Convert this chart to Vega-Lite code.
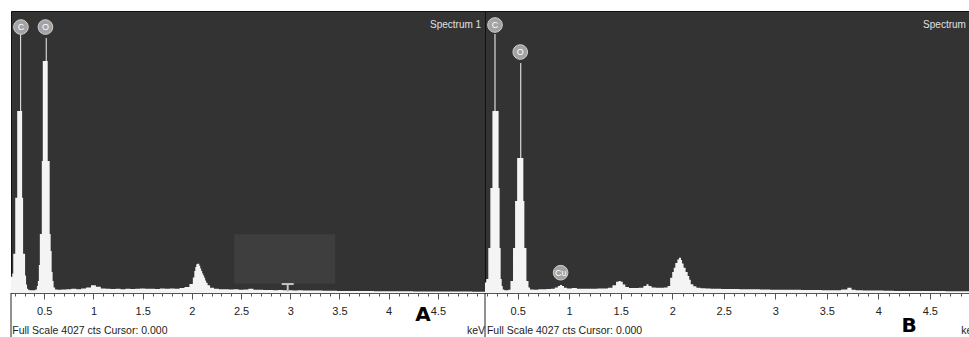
{
  "$schema": "https://vega.github.io/schema/vega-lite/v6.json",
  "padding": {"left": 10, "top": 10, "right": 0, "bottom": 0},
  "background": "white",
  "spacing": 0,
  "bounds": "flush",
  "config": {"view": {"fill": "#333333", "stroke": "#111111", "strokeWidth": 1}},
  "datasets": {
    "specA": [
      {"kev":0.16,"cts":250},{"kev":0.17,"cts":230},{"kev":0.18,"cts":280},{"kev":0.19,"cts":560},{"kev":0.20,"cts":560},
      {"kev":0.21,"cts":1360},{"kev":0.22,"cts":1360},{"kev":0.23,"cts":2600},{"kev":0.24,"cts":2600},{"kev":0.25,"cts":2600},
      {"kev":0.26,"cts":3700},{"kev":0.27,"cts":2600},{"kev":0.28,"cts":1360},{"kev":0.29,"cts":560},{"kev":0.30,"cts":560},
      {"kev":0.31,"cts":250},{"kev":0.32,"cts":120},{"kev":0.33,"cts":60},{"kev":0.34,"cts":45},{"kev":0.36,"cts":40},
      {"kev":0.38,"cts":38},{"kev":0.40,"cts":40},{"kev":0.42,"cts":50},{"kev":0.43,"cts":100},{"kev":0.44,"cts":171},
      {"kev":0.45,"cts":400},{"kev":0.46,"cts":843},{"kev":0.47,"cts":843},{"kev":0.48,"cts":1885},{"kev":0.49,"cts":3313},
      {"kev":0.50,"cts":3313},{"kev":0.51,"cts":3313},{"kev":0.52,"cts":3641},{"kev":0.53,"cts":3313},{"kev":0.54,"cts":1885},
      {"kev":0.55,"cts":1885},{"kev":0.56,"cts":843},{"kev":0.57,"cts":600},{"kev":0.58,"cts":300},{"kev":0.59,"cts":171},
      {"kev":0.60,"cts":80},{"kev":0.62,"cts":50},{"kev":0.65,"cts":45},{"kev":0.70,"cts":50},{"kev":0.75,"cts":55},
      {"kev":0.80,"cts":60},{"kev":0.85,"cts":55},{"kev":0.90,"cts":65},{"kev":0.95,"cts":80},{"kev":1.00,"cts":110},
      {"kev":1.05,"cts":90},{"kev":1.10,"cts":65},{"kev":1.15,"cts":60},{"kev":1.20,"cts":58},{"kev":1.25,"cts":62},
      {"kev":1.30,"cts":55},{"kev":1.35,"cts":60},{"kev":1.40,"cts":58},{"kev":1.45,"cts":62},{"kev":1.50,"cts":65},
      {"kev":1.55,"cts":60},{"kev":1.60,"cts":62},{"kev":1.65,"cts":58},{"kev":1.70,"cts":64},{"kev":1.75,"cts":60},
      {"kev":1.80,"cts":66},{"kev":1.85,"cts":62},{"kev":1.90,"cts":70},{"kev":1.95,"cts":85},{"kev":2.00,"cts":128},
      {"kev":2.02,"cts":220},{"kev":2.03,"cts":314},{"kev":2.04,"cts":370},{"kev":2.05,"cts":410},{"kev":2.06,"cts":418},
      {"kev":2.07,"cts":418},{"kev":2.08,"cts":390},{"kev":2.09,"cts":350},{"kev":2.10,"cts":314},{"kev":2.11,"cts":280},
      {"kev":2.12,"cts":250},{"kev":2.13,"cts":219},{"kev":2.14,"cts":180},{"kev":2.15,"cts":147},{"kev":2.17,"cts":110},
      {"kev":2.20,"cts":76},{"kev":2.25,"cts":60},{"kev":2.30,"cts":55},{"kev":2.35,"cts":52},{"kev":2.40,"cts":50},
      {"kev":2.45,"cts":52},{"kev":2.50,"cts":48},{"kev":2.55,"cts":50},{"kev":2.60,"cts":62},{"kev":2.65,"cts":48},
      {"kev":2.70,"cts":45},{"kev":2.75,"cts":44},{"kev":2.80,"cts":42},{"kev":2.85,"cts":40},{"kev":2.90,"cts":42},
      {"kev":2.95,"cts":40},{"kev":3.00,"cts":38},{"kev":3.05,"cts":36},{"kev":3.10,"cts":38},{"kev":3.15,"cts":36},
      {"kev":3.20,"cts":35},{"kev":3.25,"cts":34},{"kev":3.30,"cts":35},{"kev":3.35,"cts":33},{"kev":3.40,"cts":32},
      {"kev":3.45,"cts":33},{"kev":3.50,"cts":30},{"kev":3.60,"cts":30},{"kev":3.70,"cts":28},{"kev":3.80,"cts":28},
      {"kev":3.90,"cts":26},{"kev":4.00,"cts":25},{"kev":4.10,"cts":25},{"kev":4.20,"cts":24},{"kev":4.30,"cts":23},
      {"kev":4.40,"cts":22},{"kev":4.50,"cts":22},{"kev":4.60,"cts":21},{"kev":4.70,"cts":20},{"kev":4.80,"cts":20},
      {"kev":4.90,"cts":19},{"kev":4.98,"cts":18}
    ],
    "specB": [
      {"kev":0.18,"cts":150},{"kev":0.19,"cts":150},{"kev":0.20,"cts":200},{"kev":0.21,"cts":200},{"kev":0.22,"cts":643},
      {"kev":0.23,"cts":643},{"kev":0.24,"cts":1499},{"kev":0.25,"cts":1499},{"kev":0.26,"cts":2599},{"kev":0.27,"cts":2599},
      {"kev":0.28,"cts":3700},{"kev":0.29,"cts":2599},{"kev":0.30,"cts":2599},{"kev":0.31,"cts":2599},{"kev":0.32,"cts":1499},
      {"kev":0.33,"cts":643},{"kev":0.34,"cts":200},{"kev":0.35,"cts":100},{"kev":0.36,"cts":50},{"kev":0.38,"cts":40},
      {"kev":0.40,"cts":40},{"kev":0.42,"cts":45},{"kev":0.44,"cts":171},{"kev":0.45,"cts":171},{"kev":0.46,"cts":643},
      {"kev":0.47,"cts":643},{"kev":0.48,"cts":1314},{"kev":0.49,"cts":1314},{"kev":0.50,"cts":1928},{"kev":0.51,"cts":1928},
      {"kev":0.52,"cts":1928},{"kev":0.53,"cts":3284},{"kev":0.54,"cts":1928},{"kev":0.55,"cts":1928},{"kev":0.56,"cts":1314},
      {"kev":0.57,"cts":643},{"kev":0.58,"cts":643},{"kev":0.59,"cts":171},{"kev":0.60,"cts":171},{"kev":0.61,"cts":80},
      {"kev":0.63,"cts":50},{"kev":0.68,"cts":48},{"kev":0.72,"cts":52},{"kev":0.76,"cts":55},{"kev":0.80,"cts":58},
      {"kev":0.84,"cts":62},{"kev":0.88,"cts":80},{"kev":0.90,"cts":100},{"kev":0.92,"cts":114},{"kev":0.94,"cts":100},
      {"kev":0.96,"cts":75},{"kev":1.00,"cts":65},{"kev":1.05,"cts":70},{"kev":1.10,"cts":62},{"kev":1.15,"cts":60},
      {"kev":1.20,"cts":62},{"kev":1.25,"cts":60},{"kev":1.30,"cts":64},{"kev":1.35,"cts":66},{"kev":1.40,"cts":75},
      {"kev":1.44,"cts":110},{"kev":1.47,"cts":160},{"kev":1.49,"cts":171},{"kev":1.51,"cts":160},{"kev":1.53,"cts":120},
      {"kev":1.56,"cts":85},{"kev":1.60,"cts":72},{"kev":1.65,"cts":70},{"kev":1.70,"cts":74},{"kev":1.74,"cts":100},
      {"kev":1.76,"cts":124},{"kev":1.78,"cts":100},{"kev":1.82,"cts":78},{"kev":1.86,"cts":74},{"kev":1.90,"cts":76},
      {"kev":1.94,"cts":80},{"kev":1.97,"cts":100},{"kev":1.99,"cts":219},{"kev":2.01,"cts":300},{"kev":2.02,"cts":361},
      {"kev":2.04,"cts":430},{"kev":2.06,"cts":480},{"kev":2.07,"cts":504},{"kev":2.08,"cts":504},{"kev":2.09,"cts":470},
      {"kev":2.10,"cts":420},{"kev":2.12,"cts":361},{"kev":2.14,"cts":300},{"kev":2.16,"cts":243},{"kev":2.17,"cts":190},
      {"kev":2.19,"cts":124},{"kev":2.22,"cts":95},{"kev":2.25,"cts":76},{"kev":2.30,"cts":68},{"kev":2.35,"cts":64},
      {"kev":2.40,"cts":62},{"kev":2.45,"cts":60},{"kev":2.50,"cts":58},{"kev":2.60,"cts":56},{"kev":2.70,"cts":54},
      {"kev":2.80,"cts":52},{"kev":2.90,"cts":50},{"kev":3.00,"cts":48},{"kev":3.10,"cts":46},{"kev":3.20,"cts":45},
      {"kev":3.30,"cts":44},{"kev":3.40,"cts":42},{"kev":3.50,"cts":40},{"kev":3.60,"cts":40},{"kev":3.68,"cts":50},
      {"kev":3.72,"cts":76},{"kev":3.76,"cts":45},{"kev":3.80,"cts":38},{"kev":3.90,"cts":35},{"kev":4.00,"cts":34},
      {"kev":4.10,"cts":32},{"kev":4.20,"cts":30},{"kev":4.30,"cts":30},{"kev":4.40,"cts":28},{"kev":4.50,"cts":28},
      {"kev":4.60,"cts":27},{"kev":4.70,"cts":26},{"kev":4.80,"cts":25},{"kev":4.90,"cts":25}
    ],
    "markA": [{"kev":0.263,"cts":3798,"el":"C"},{"kev":0.512,"cts":3798,"el":"O"}],
    "markB": [{"kev":0.280,"cts":3827,"el":"C"},{"kev":0.525,"cts":3441,"el":"O"},{"kev":0.917,"cts":290,"el":"Cu"}],
    "boxA": [{"kev":2.431,"kev2":3.457,"cts":133,"cts2":838}],
    "barA": [{"kev":2.913,"kev2":3.035,"cts":128}],
    "stemA": [{"kev":2.974,"cts":18,"cts2":128}],
    "edgeA": [{"kev":0.162,"cts":-700,"cts2":0}],
    "edgeB": [{"kev":0.183,"cts":-700,"cts2":0}],
    "notesA": [{"kev":0.175,"cts":-543,"txt":"Full Scale 4027 cts Cursor: 0.000"},{"kev":4.796,"cts":-543,"txt":"keV"}],
    "notesB": [{"kev":0.202,"cts":-543,"txt":"Full Scale 4027 cts Cursor: 0.000"},{"kev":4.804,"cts":-543,"txt":"keV"}],
    "titleA": [{"kev":4.42,"cts":3827,"txt":"Spectrum 1"}],
    "titleB": [{"kev":4.435,"cts":3827,"txt":"Spectrum 1"}],
    "letterA": [{"kev":4.348,"cts":-321,"txt":"A"}],
    "letterB": [{"kev":4.299,"cts":-478,"txt":"B"}]
  },
  "hconcat": [
    {
      "width": 474,
      "height": 282,
      "encoding": {
        "x": {"field":"kev","type":"quantitative","scale":{"domain":[0.162,4.979],"nice":false,"zero":false},
          "axis":{"values":[0.2,0.3,0.4,0.5,0.6,0.7,0.8,0.9,1.0,1.1,1.2,1.3,1.4,1.5,1.6,1.7,1.8,1.9,2.0,2.1,2.2,2.3,2.4,2.5,2.6,2.7,2.8,2.9,3.0,3.1,3.2,3.3,3.4,3.5,3.6,3.7,3.8,3.9,4.0,4.1,4.2,4.3,4.4,4.5,4.6,4.7,4.8,4.9],
            "labelExpr":"round(datum.value*10) % 5 == 0 ? format(datum.value, '') : ''",
            "tickSize":{"condition":{"test":"round(datum.value*10) % 5 == 0","value":6},"value":3},
            "title":null,"grid":false,"domainColor":"#555555","tickColor":"#555555","labelColor":"#222222",
            "labelFont":"Liberation Sans","labelFontSize":11,"labelPadding":6,"labelFlush":false,"labelOverlap":false,"labelBound":false}},
        "y": {"field":"cts","type":"quantitative","scale":{"domain":[0,4027],"nice":false,"zero":false},"axis":null}
      },
      "layer": [
        {"data":{"name":"boxA"},"mark":{"type":"rect","color":"#3e3e3e"},"encoding":{"x2":{"field":"kev2"},"y2":{"field":"cts2"}}},
        {"data":{"name":"specA"},"mark":{"type":"area","interpolate":"step","color":"#f4f4f4","clip":true,"opacity":1}},
        {"data":{"name":"barA"},"mark":{"type":"rule","color":"#c4c4c4","strokeWidth":2},"encoding":{"x2":{"field":"kev2"}}},
        {"data":{"name":"stemA"},"mark":{"type":"rule","color":"#c4c4c4","strokeWidth":2},"encoding":{"y2":{"field":"cts2"}}},
        {"data":{"name":"edgeA"},"mark":{"type":"rule","color":"#222222","strokeWidth":1,"clip":false},"encoding":{"y2":{"field":"cts2"}}},
        {"data":{"name":"markA"},"mark":{"type":"point","shape":"circle","filled":true,"size":215,"fill":"#a3a3a3","stroke":"#d0d0d0","strokeWidth":1,"opacity":1}},
        {"data":{"name":"markA"},"mark":{"type":"text","color":"#ffffff","fontSize":9,"font":"Liberation Sans","align":"center","baseline":"middle"},"encoding":{"text":{"field":"el"}}},
        {"data":{"name":"titleA"},"mark":{"type":"text","color":"#e0e0e0","fontSize":10,"font":"Liberation Sans","align":"left","baseline":"middle"},"encoding":{"text":{"field":"txt"}}},
        {"data":{"name":"notesA"},"mark":{"type":"text","color":"#222222","fontSize":10.5,"font":"Liberation Sans","align":"left","baseline":"middle"},"encoding":{"text":{"field":"txt"}}},
        {"data":{"name":"letterA"},"mark":{"type":"text","color":"#000000","fontSize":20,"fontWeight":"bold","font":"DejaVu Sans","align":"center","baseline":"middle"},"encoding":{"text":{"field":"txt"}}}
      ]
    },
    {
      "width": 485,
      "height": 282,
      "encoding": {
        "x": {"field":"kev","type":"quantitative","scale":{"domain":[0.183,4.89],"nice":false,"zero":false},
          "axis":{"values":[0.2,0.3,0.4,0.5,0.6,0.7,0.8,0.9,1.0,1.1,1.2,1.3,1.4,1.5,1.6,1.7,1.8,1.9,2.0,2.1,2.2,2.3,2.4,2.5,2.6,2.7,2.8,2.9,3.0,3.1,3.2,3.3,3.4,3.5,3.6,3.7,3.8,3.9,4.0,4.1,4.2,4.3,4.4,4.5,4.6,4.7,4.8],
            "labelExpr":"round(datum.value*10) % 5 == 0 ? format(datum.value, '') : ''",
            "tickSize":{"condition":{"test":"round(datum.value*10) % 5 == 0","value":6},"value":3},
            "title":null,"grid":false,"domainColor":"#555555","tickColor":"#555555","labelColor":"#222222",
            "labelFont":"Liberation Sans","labelFontSize":11,"labelPadding":6,"labelFlush":false,"labelOverlap":false,"labelBound":false}},
        "y": {"field":"cts","type":"quantitative","scale":{"domain":[0,4027],"nice":false,"zero":false},"axis":null}
      },
      "layer": [
        {"data":{"name":"specB"},"mark":{"type":"area","interpolate":"step","color":"#f4f4f4","clip":true,"opacity":1}},
        {"data":{"name":"edgeB"},"mark":{"type":"rule","color":"#222222","strokeWidth":1,"clip":false},"encoding":{"y2":{"field":"cts2"}}},
        {"data":{"name":"markB"},"mark":{"type":"point","shape":"circle","filled":true,"size":215,"fill":"#a3a3a3","stroke":"#d0d0d0","strokeWidth":1,"opacity":1}},
        {"data":{"name":"markB"},"mark":{"type":"text","color":"#ffffff","fontSize":9,"font":"Liberation Sans","align":"center","baseline":"middle"},"encoding":{"text":{"field":"el"}}},
        {"data":{"name":"titleB"},"mark":{"type":"text","color":"#e0e0e0","fontSize":10,"font":"Liberation Sans","align":"left","baseline":"middle"},"encoding":{"text":{"field":"txt"}}},
        {"data":{"name":"notesB"},"mark":{"type":"text","color":"#222222","fontSize":10.5,"font":"Liberation Sans","align":"left","baseline":"middle"},"encoding":{"text":{"field":"txt"}}},
        {"data":{"name":"letterB"},"mark":{"type":"text","color":"#000000","fontSize":20,"fontWeight":"bold","font":"DejaVu Sans","align":"center","baseline":"middle"},"encoding":{"text":{"field":"txt"}}}
      ]
    }
  ]
}
